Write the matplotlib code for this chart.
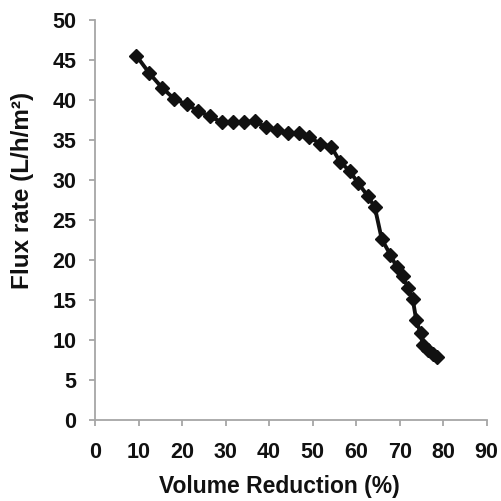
import matplotlib
matplotlib.use("Agg")
import matplotlib.pyplot as plt

volume_reduction = [9.5, 12.5, 15.4, 18.2, 21.1, 23.7, 26.4, 29.1, 31.6, 34.2, 36.8,
                    39.3, 41.9, 44.4, 46.9, 49.2, 51.8, 54.3, 56.3, 58.5, 60.5, 62.7,
                    64.3, 65.9, 67.9, 69.3, 70.7, 72.0, 73.0, 73.8, 74.8, 75.4, 76.6,
                    77.7, 78.6]
flux_rate = [45.5, 43.3, 41.5, 40.1, 39.4, 38.6, 37.9, 37.2, 37.2, 37.2, 37.3,
             36.55, 36.2, 35.8, 35.8, 35.3, 34.5, 34.1, 32.25, 31.1, 29.55, 27.96,
             26.55, 22.55, 20.6, 19.1, 17.9, 16.4, 15.1, 12.5, 10.8, 9.3, 8.7,
             8.2, 7.8]
x_ticks = list(range(0, 91, 10))
y_ticks = list(range(0, 51, 5))

plt.rcParams['font.family'] = ['Liberation Sans', 'DejaVu Sans']
plt.rcParams['font.weight'] = 'bold'

fig = plt.figure(figsize=(5.01, 5.01), dpi=100)
ax = fig.add_axes([0.1896, 0.1623, 0.9714 - 0.1896, 0.9607 - 0.1623])

ax.plot(volume_reduction, flux_rate, color='#111111', linewidth=2.8,
        marker='D', markersize=7.6, markerfacecolor='#111111',
        markeredgecolor='#111111', clip_on=False)

ax.set_xlim(0, 90)
ax.set_ylim(0, 50)
ax.set_xticks(x_ticks)
ax.set_yticks(y_ticks)

for s in ['top', 'right']:
    ax.spines[s].set_visible(False)
for s in ['left', 'bottom']:
    ax.spines[s].set_color('#a6a6a6')
    ax.spines[s].set_linewidth(1.3)

ax.tick_params(axis='both', direction='out', length=4.5, width=1.3,
               color='#a6a6a6', labelsize=15.5, labelcolor='#111111')
ax.tick_params(axis='y', pad=9)
ax.tick_params(axis='x', pad=11.5)
for lab in ax.get_xticklabels() + ax.get_yticklabels():
    lab.set_fontweight('bold')

ax.set_xlabel('Volume Reduction (%)', fontsize=16.5, fontweight='bold',
              color='#111111')
ax.xaxis.set_label_coords(0.472, -0.168)
ax.xaxis.label.set_verticalalignment('center')

ax.set_ylabel('Flux rate (L/h/m²)', fontsize=17.5, fontweight='bold',
              color='#111111')
ax.yaxis.set_label_coords(-0.184, 0.572)
ax.yaxis.label.set_rotation_mode('default')
ax.yaxis.label.set_verticalalignment('center')
ax.yaxis.label.set_horizontalalignment('center')

fig.savefig('out.png', dpi=100)
